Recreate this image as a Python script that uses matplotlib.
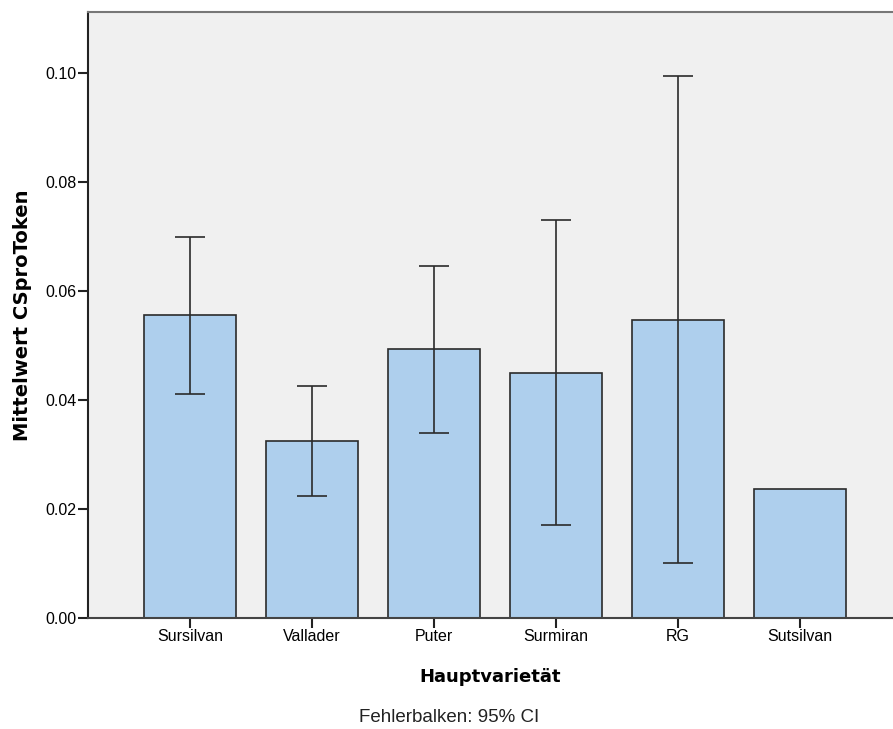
import numpy as np
from matplotlib import pyplot as plt

categories = ["Sursilvan", "Vallader", "Puter", "Surmiran", "RG", "Sutsilvan"]
means = [0.0556, 0.0325, 0.0494, 0.0450, 0.0547, 0.0237]
ci_low = [0.0411, 0.0224, 0.0339, 0.0171, 0.0101, np.nan]
ci_high = [0.0699, 0.0426, 0.0646, 0.0730, 0.0994, np.nan]


def main():
    plt.rcParams['font.family'] = ['Liberation Sans', 'DejaVu Sans']
    fig = plt.figure(figsize=(8.93, 7.29), dpi=100)
    ax = fig.add_axes([0.0985, 0.152, 0.9015, 0.8315])
    ax.set_facecolor('#F0F0F0')

    x = np.arange(len(categories))
    ax.bar(x, means, width=0.754, color='#AECFED', edgecolor='#2b2b2b', linewidth=1.2, zorder=2)

    m = np.array(means)
    lo = m - np.array(ci_low)
    hi = np.array(ci_high) - m
    ok = ~np.isnan(lo)
    ax.errorbar(x[ok], m[ok], yerr=[lo[ok], hi[ok]], fmt='none', ecolor='#2b2b2b',
                elinewidth=1.2, capsize=11, capthick=1.2, zorder=3)

    ax.set_xlim(-0.836, 5.76)
    ax.set_ylim(0, 0.1112)
    ax.set_xticks(x)
    ax.set_xticklabels(categories, fontsize=11.5)
    ax.set_yticks([0.0, 0.02, 0.04, 0.06, 0.08, 0.10])
    ax.set_yticklabels(["0.00", "0.02", "0.04", "0.06", "0.08", "0.10"], fontsize=11.5)
    ax.tick_params(axis='both', length=7, width=1.5, color='#222222', pad=1)

    ax.spines['right'].set_visible(False)
    ax.spines['left'].set_linewidth(1.5)
    ax.spines['left'].set_color('#222222')
    ax.spines['bottom'].set_linewidth(1.5)
    ax.spines['bottom'].set_color('#444444')
    ax.spines['top'].set_linewidth(1.5)
    ax.spines['top'].set_color('#777777')

    ax.set_xlabel('Hauptvarietät', fontsize=13, fontweight='bold', family='DejaVu Sans', labelpad=17)
    ax.set_ylabel('Mittelwert CSproToken', fontsize=14, fontweight='bold', family='DejaVu Sans', labelpad=10)
    fig.text(0.503, 1 - 718 / 729, 'Fehlerbalken: 95% CI', ha='center',
             va='center', fontsize=13.5, color='#222222')

    plt.savefig("out.png", dpi=100)


if __name__ == "__main__":
    main()
